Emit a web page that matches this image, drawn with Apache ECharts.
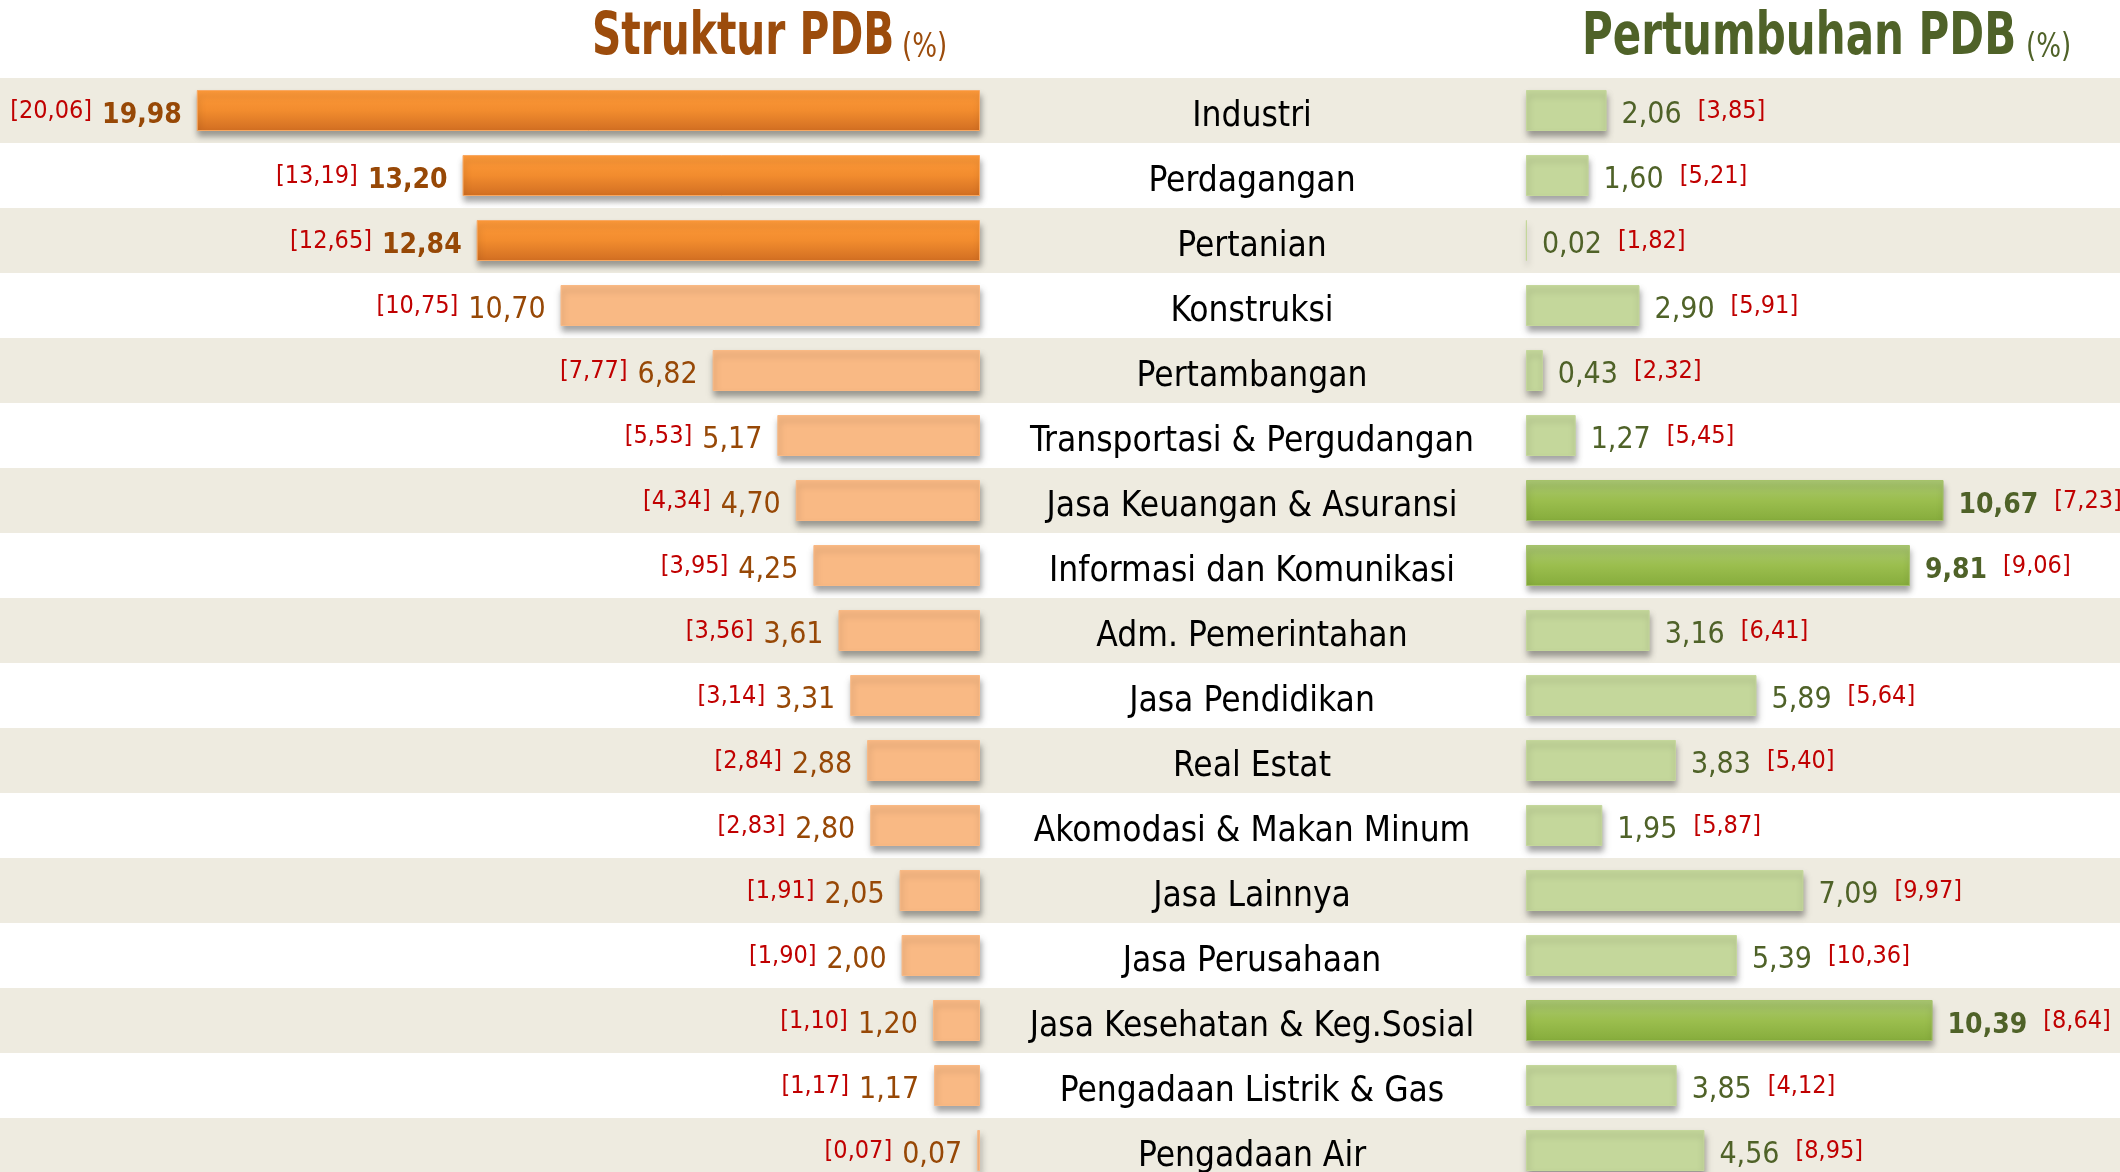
<!DOCTYPE html>
<html>
<head>
<meta charset="utf-8">
<script src="https://cdn.jsdelivr.net/npm/echarts@6/dist/echarts.min.js"></script>
<style>
  html, body { margin: 0; padding: 0; background: #fff; }
  #chart { width: 2120px; height: 1172px; }
</style>
</head>
<body>
<div id="chart"></div>
<script>
// sektor, urut dari atas
const sektor = [
  'Industri', 'Perdagangan', 'Pertanian', 'Konstruksi', 'Pertambangan',
  'Transportasi & Pergudangan', 'Jasa Keuangan & Asuransi', 'Informasi dan Komunikasi',
  'Adm. Pemerintahan', 'Jasa Pendidikan', 'Real Estat', 'Akomodasi & Makan Minum',
  'Jasa Lainnya', 'Jasa Perusahaan', 'Jasa Kesehatan & Keg.Sosial',
  'Pengadaan Listrik & Gas', 'Pengadaan Air'
]
// struktur PDB (%) dan angka dalam kurung
const struktur = [19.98, 13.20, 12.84, 10.70, 6.82, 5.17, 4.70, 4.25, 3.61, 3.31, 2.88, 2.80, 2.05, 2.00, 1.20, 1.17, 0.07]
const strukturLalu = [20.06, 13.19, 12.65, 10.75, 7.77, 5.53, 4.34, 3.95, 3.56, 3.14, 2.84, 2.83, 1.91, 1.90, 1.10, 1.17, 0.07]
// pertumbuhan PDB (%) dan angka dalam kurung
const tumbuh = [2.06, 1.60, 0.02, 2.90, 0.43, 1.27, 10.67, 9.81, 3.16, 5.89, 3.83, 1.95, 7.09, 5.39, 10.39, 3.85, 4.56]
const tumbuhLalu = [3.85, 5.21, 1.82, 5.91, 2.32, 5.45, 7.23, 9.06, 6.41, 5.64, 5.40, 5.87, 9.97, 10.36, 8.64, 4.12, 8.95]
// baris yang disorot
const sorotKiri = [0, 1, 2]
const sorotKanan = [6, 7, 14]

const FONT = '"DejaVu Sans Condensed", "Liberation Sans", sans-serif'
const BROWN = '#974806'
const OLIVE = '#4F6228'
const fmt = v => v.toFixed(2).replace('.', ',')

const chart = echarts.init(document.getElementById('chart'))

const shadow = {
  shadowBlur: 6,
  shadowOffsetY: 5,
  shadowOffsetX: 1,
  shadowColor: 'rgba(0,0,0,0.35)'
}

const orangeGrad = new echarts.graphic.LinearGradient(0, 0, 0, 1, [
  { offset: 0, color: '#FE9A3A' },
  { offset: 0.5, color: '#F28C2E' },
  { offset: 1, color: '#D16E22' }
])
const greenGrad = new echarts.graphic.LinearGradient(0, 0, 0, 1, [
  { offset: 0, color: '#A9C673' },
  { offset: 0.5, color: '#9BBE4E' },
  { offset: 1, color: '#86AC3C' }
])

const kiriData = struktur.map((v, i) => {
  const hi = sorotKiri.includes(i)
  return {
    value: v,
    itemStyle: Object.assign({
      color: hi ? orangeGrad : '#F9B984',
      borderColor: hi ? '#F8A862' : '#F9B984',
      borderWidth: 1
    }, shadow),
    label: {
      formatter: '{p|[' + fmt(strukturLalu[i]) + ']}{' + (hi ? 'vb' : 'v') + '|' + fmt(v) + '}'
    }
  }
})

const kananData = tumbuh.map((v, i) => {
  const hi = sorotKanan.includes(i)
  return {
    value: v,
    itemStyle: Object.assign({
      color: hi ? greenGrad : '#C4D79B',
      borderColor: hi ? '#A5C26A' : '#C4D79B',
      borderWidth: 1
    }, shadow),
    label: {
      formatter: '{' + (hi ? 'vb' : 'v') + '|' + fmt(v) + '}{p|[' + fmt(tumbuhLalu[i]) + ']}'
    }
  }
})

const TOP = 78
const H = 65 * sektor.length

const hiddenCat = i => ({
  type: 'category', gridIndex: i, data: sektor, inverse: true,
  axisLine: { show: false }, axisTick: { show: false }, axisLabel: { show: false },
  splitLine: { show: false }
})
const hiddenVal = (i, max, inv) => ({
  type: 'value', gridIndex: i, min: 0, max: max, inverse: !!inv, show: false,
  splitLine: { show: false }
})

// judul: teks tebal dipersempit supaya mirip huruf narrow
const judul = (text, x, sx, color) => ({
  type: 'text', x: x, y: 10, scaleX: sx,
  style: { text: text, fill: color, fontFamily: FONT, fontWeight: 'bold', fontSize: 58, verticalAlign: 'top' }
})
const persen = (x, color) => ({
  type: 'text', x: x, y: 32, scaleX: 0.88,
  style: { text: '(%)', fill: color, fontFamily: FONT, fontSize: 33, verticalAlign: 'top' }
})

chart.setOption({
  backgroundColor: '#fff',
  animation: false,
  graphic: [
    judul('Struktur PDB', 592, 0.78, '#9C4C0C'),
    persen(902, '#9C4C0C'),
    judul('Pertumbuhan PDB', 1582, 0.805, OLIVE),
    persen(2026, OLIVE)
  ],
  grid: [
    { left: 0, width: 2120, top: TOP, height: H, outerBoundsMode: 'none' },
    { left: 0, width: 980, top: TOP, height: H, outerBoundsMode: 'none' },
    { left: 1526, width: 587, top: TOP, height: H, outerBoundsMode: 'none' },
    { left: 1252, width: 10, top: TOP, height: H, outerBoundsMode: 'none' }
  ],
  xAxis: [
    hiddenVal(0, 1),
    hiddenVal(1, 25, true),
    hiddenVal(2, 15),
    hiddenVal(3, 1)
  ],
  yAxis: [
    Object.assign(hiddenCat(0), {
      splitArea: { show: true, areaStyle: { color: ['#EEEBE0', '#FFFFFF'] } }
    }),
    hiddenCat(1),
    hiddenCat(2),
    Object.assign(hiddenCat(3), {
      axisLabel: {
        show: true, align: 'center', margin: 0,
        formatter: v => '{c|' + v + '}',
        rich: {
          c: { fontFamily: FONT, fontSize: 35, color: '#000', padding: [12, 0, 0, 0] }
        }
      }
    })
  ],
  series: [{
    name: 'Struktur PDB',
    type: 'bar',
    xAxisIndex: 1,
    yAxisIndex: 1,
    barWidth: 41,
    label: {
      show: true,
      position: 'left',
      distance: 15,
      offset: [0, 3],
      rich: {
        p: { fontFamily: FONT, fontSize: 25, color: '#C00000', padding: [0, 10, 4, 0] },
        v: { fontFamily: FONT, fontSize: 30, color: BROWN, padding: [4, 0, 0, 0] },
        vb: { fontFamily: FONT, fontSize: 28, fontWeight: 'bold', color: BROWN, padding: [4, 0, 0, 0] }
      }
    },
    data: kiriData
  }, {
    name: 'Pertumbuhan PDB',
    type: 'bar',
    xAxisIndex: 2,
    yAxisIndex: 2,
    barWidth: 41,
    label: {
      show: true,
      position: 'right',
      distance: 15,
      offset: [0, 3],
      rich: {
        p: { fontFamily: FONT, fontSize: 25, color: '#C00000', padding: [0, 0, 4, 16] },
        v: { fontFamily: FONT, fontSize: 30, color: OLIVE, padding: [4, 0, 0, 0] },
        vb: { fontFamily: FONT, fontSize: 28, fontWeight: 'bold', color: OLIVE, padding: [4, 0, 0, 0] }
      }
    },
    data: kananData
  }]
})
</script>
</body>
</html>
